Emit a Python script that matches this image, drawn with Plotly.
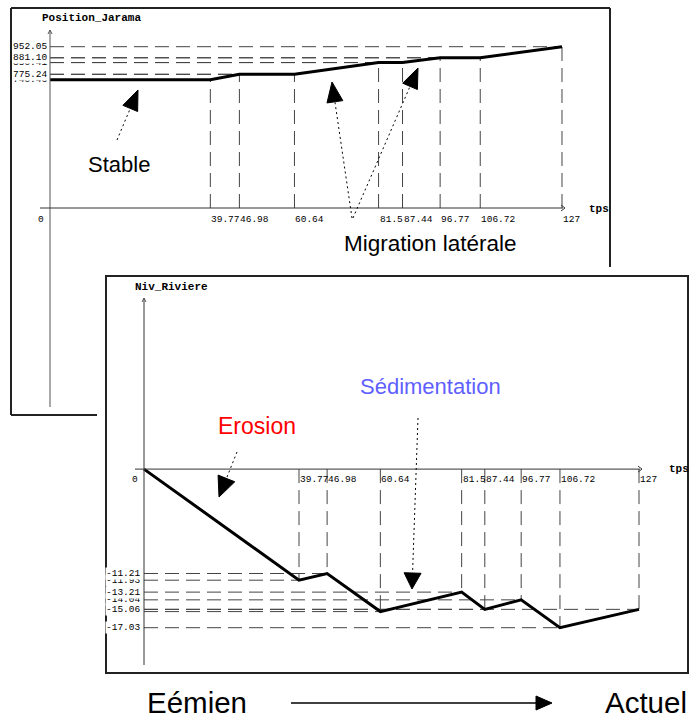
import math
import plotly.graph_objects as go

# ---------------- data ----------------
TPS = [0, 39.77, 46.98, 60.64, 81.5, 87.44, 96.77, 106.72, 127]
TPS_LABELS = ["0", "39.77", "46.98", "60.64", "81.5", "87.44", "96.77", "106.72", "127"]

POSITION_JARAMA = [740.46, 740.46, 775.24, 775.24, 850.41, 850.41, 881.10, 881.10, 952.05]
POSITION_TICKS = [740.46, 775.24, 850.41, 881.10, 952.05]
POSITION_TICK_LABELS = ["740.46", "775.24", "850.41", "881.10", "952.05"]

NIV_RIVIERE = [0, -11.93, -11.21, -15.30, -13.21, -15.06, -14.04, -17.03, -15.06]
NIV_TICKS = [-17.03, -15.06, -14.04, -13.21, -11.93, -11.21]
NIV_TICK_LABELS = ["-17.03", "-15.06", "-14.04", "-13.21", "-11.93", "-11.21"]

# ---------------- layout helpers (page pixel -> paper) ----------------
W, H = 692, 720


def px(x):
    return x / W


def py(y):
    return 1 - y / H


MONO = "Liberation Mono"
SANS = "Liberation Sans"
DASH = "14px,7px"
DASH_COLOR = "#444444"

# top panel geometry
T_X0, T_XS = 50.0, (562.0 - 50.0) / 127.0
T_AXIS_PY, T_YTOP_PY = 208.0, 30.0
T_REF_V, T_REF_PY, T_YS = 952.05, 46.7, 0.1561
t_ymin = T_REF_V - (T_AXIS_PY - T_REF_PY) / T_YS
t_ymax = T_REF_V + (T_REF_PY - T_YTOP_PY) / T_YS

# bottom panel geometry
B_X0, B_XS = 144.0, (639.0 - 144.0) / 127.0
B_ZERO_PY, B_YS = 469.1, 9.313
B_TOP_PY, B_BOT_PY = 298.0, 665.0
b_ymin = -(B_BOT_PY - B_ZERO_PY) / B_YS
b_ymax = (B_ZERO_PY - B_TOP_PY) / B_YS

XR = [-2, 130]

fig = go.Figure()


def proj_lines(xs, ys, base):
    lx, ly = [], []
    for x, y in zip(xs, ys):
        if x == 0:
            continue
        lx += [x, x, None, 0, x, None]
        ly += [base, y, None, y, y, None]
    return lx, ly


# projection (dashed) lines
tx_, ty_ = proj_lines(TPS, POSITION_JARAMA, t_ymin)
fig.add_trace(go.Scatter(x=tx_, y=ty_, mode="lines", xaxis="x", yaxis="y",
                         line=dict(color=DASH_COLOR, width=1, dash=DASH),
                         hoverinfo="skip", showlegend=False))
bx_, by_ = proj_lines(TPS, NIV_RIVIERE, 0)
fig.add_trace(go.Scatter(x=bx_, y=by_, mode="lines", xaxis="x2", yaxis="y2",
                         line=dict(color=DASH_COLOR, width=1, dash=DASH),
                         hoverinfo="skip", showlegend=False))

# data lines
fig.add_trace(go.Scatter(x=TPS, y=POSITION_JARAMA, mode="lines", xaxis="x", yaxis="y",
                         line=dict(color="black", width=3), name="Position_Jarama",
                         showlegend=False))
fig.add_trace(go.Scatter(x=TPS, y=NIV_RIVIERE, mode="lines", xaxis="x2", yaxis="y2",
                         line=dict(color="black", width=3), name="Niv_Riviere",
                         showlegend=False))

shapes = []
annotations = []


def seg(x0, y0, x1, y1, color="#222222", width=1, dash=None):
    ln = dict(color=color, width=width)
    if dash:
        ln["dash"] = dash
    shapes.append(dict(type="line", xref="paper", yref="paper",
                       x0=px(x0), y0=py(y0), x1=px(x1), y1=py(y1), line=ln))


def tri(tip, start, L, Wd):
    sx, sy = start
    tx, ty = tip
    dx, dy = tx - sx, ty - sy
    n = math.hypot(dx, dy)
    ux, uy = dx / n, dy / n
    bx, by = tx - ux * L, ty - uy * L
    nx, ny = -uy, ux
    c1 = (bx + nx * Wd, by + ny * Wd)
    c2 = (bx - nx * Wd, by - ny * Wd)
    path = "M {},{} L {},{} L {},{} Z".format(px(tx), py(ty), px(c1[0]), py(c1[1]),
                                               px(c2[0]), py(c2[1]))
    shapes.append(dict(type="path", xref="paper", yref="paper", path=path,
                       fillcolor="black", line=dict(color="black", width=1)))
    return bx, by


def dotted_arrow(start, tip, L=20, Wd=8):
    bx, by = tri(tip, start, L, Wd)
    seg(start[0], start[1], bx, by, color="black", width=1, dash="2px,3px")


# panel frames
seg(11, 8, 11, 415, width=2)
seg(11, 8, 610, 8, width=2)
seg(610, 8, 610, 267, width=2)
seg(11, 415, 97, 415, width=2)
shapes.append(dict(type="rect", xref="paper", yref="paper",
                   x0=px(106), y0=py(673), x1=px(688), y1=py(276),
                   line=dict(color="#222222", width=2)))

# top axes
seg(T_X0, T_YTOP_PY, T_X0, 407, color="#555555")
seg(40, T_AXIS_PY, 563, T_AXIS_PY, color="#333333")
seg(48, T_YTOP_PY + 4, T_X0, T_YTOP_PY, color="#555555")
seg(52, T_YTOP_PY + 4, T_X0, T_YTOP_PY, color="#555555")
seg(561, T_AXIS_PY - 3, 565, T_AXIS_PY, color="#333333")
seg(561, T_AXIS_PY + 3, 565, T_AXIS_PY, color="#333333")

# bottom axes
seg(B_X0, B_TOP_PY, B_X0, B_BOT_PY, color="#333333")
seg(135, B_ZERO_PY, 640, B_ZERO_PY, color="#333333")
seg(B_X0 - 2, B_TOP_PY + 4, B_X0, B_TOP_PY, color="#555555")
seg(B_X0 + 2, B_TOP_PY + 4, B_X0, B_TOP_PY, color="#555555")
seg(638, B_ZERO_PY - 3, 642, B_ZERO_PY, color="#333333")
seg(638, B_ZERO_PY + 3, 642, B_ZERO_PY, color="#333333")

# x tick labels
for xref, ylab in (("x", 219.0), ("x2", 479.5)):
    for t, lab in zip(TPS, TPS_LABELS):
        annotations.append(dict(
            xref=xref, yref="paper", x=t, y=py(ylab), text=lab, showarrow=False,
            xanchor="right" if t == 0 else "left", yanchor="middle",
            xshift=-5 if t == 0 else 0, borderpad=0,
            font=dict(family=MONO, size=9.5, color="black")))

# y tick labels (later labels cover earlier ones)
for v, lab in zip(POSITION_TICKS, POSITION_TICK_LABELS):
    annotations.append(dict(
        xref="x", yref="y", x=0, y=v, text=lab, showarrow=False,
        xanchor="right", yanchor="middle", xshift=-1, borderpad=0, bgcolor="white",
        font=dict(family=MONO, size=9.5, color="black")))
for v, lab in zip(NIV_TICKS, NIV_TICK_LABELS):
    annotations.append(dict(
        xref="x2", yref="y2", x=0, y=v, text=lab, showarrow=False,
        xanchor="right", yanchor="middle", xshift=-2, borderpad=0, bgcolor="white",
        font=dict(family=MONO, size=9.5, color="black")))

# axis names / titles
for text, x, y, anchor in (("<b>Position_Jarama</b>", 40, 18, "left"),
                           ("<b>Niv_Riviere</b>", 133, 287, "left"),
                           ("<b>tps</b>", 587, 209, "left"),
                           ("<b>tps</b>", 667, 469, "left")):
    annotations.append(dict(xref="paper", yref="paper", x=px(x), y=py(y), text=text,
                            showarrow=False, xanchor=anchor, yanchor="middle",
                            font=dict(family=MONO, size=11, color="black")))

# descriptive labels
for text, x, y, size, color in (("Stable", 119, 165, 22, "black"),
                                ("Migration latérale", 430, 243, 22.5, "black"),
                                ("Erosion", 257, 426, 23, "#ff0000"),
                                ("Sédimentation", 430, 386, 22, "#5f5fff"),
                                ("Eémien", 197, 702, 29.5, "black"),
                                ("Actuel", 646, 702, 29.5, "black")):
    annotations.append(dict(xref="paper", yref="paper", x=px(x), y=py(y), text=text,
                            showarrow=False, xanchor="center", yanchor="middle",
                            font=dict(family=SANS, size=size, color=color)))

# annotation arrows
dotted_arrow((117, 140), (138, 90), L=20, Wd=8)
dotted_arrow((352, 218), (332, 82), L=20, Wd=8)
dotted_arrow((353, 218), (418, 68), L=20, Wd=8)
dotted_arrow((237, 452), (219, 497), L=20, Wd=9)
dotted_arrow((418, 418), (412, 589), L=16, Wd=8.5)

# time arrow
seg(291, 703, 537, 703, color="black", width=1.5)
tri((552, 703), (291, 703), L=16, Wd=7)

fig.update_layout(
    width=W, height=H,
    margin=dict(l=0, r=0, t=0, b=0),
    paper_bgcolor="white", plot_bgcolor="rgba(0,0,0,0)",
    showlegend=False,
    xaxis=dict(domain=[px(T_X0 + XR[0] * T_XS), px(T_X0 + XR[1] * T_XS)], range=XR,
               visible=False, anchor="y"),
    yaxis=dict(domain=[py(T_AXIS_PY), py(T_YTOP_PY)], range=[t_ymin, t_ymax],
               visible=False, anchor="x"),
    xaxis2=dict(domain=[px(B_X0 + XR[0] * B_XS), px(B_X0 + XR[1] * B_XS)], range=XR,
                visible=False, anchor="y2"),
    yaxis2=dict(domain=[py(B_BOT_PY), py(B_TOP_PY)], range=[b_ymin, b_ymax],
                visible=False, anchor="x2"),
    shapes=shapes,
    annotations=annotations,
)

fig.write_html(
    "out.html",
    config={"displayModeBar": False},
    post_script="document.body.style.margin='0px';document.body.style.overflow='hidden';",
)
